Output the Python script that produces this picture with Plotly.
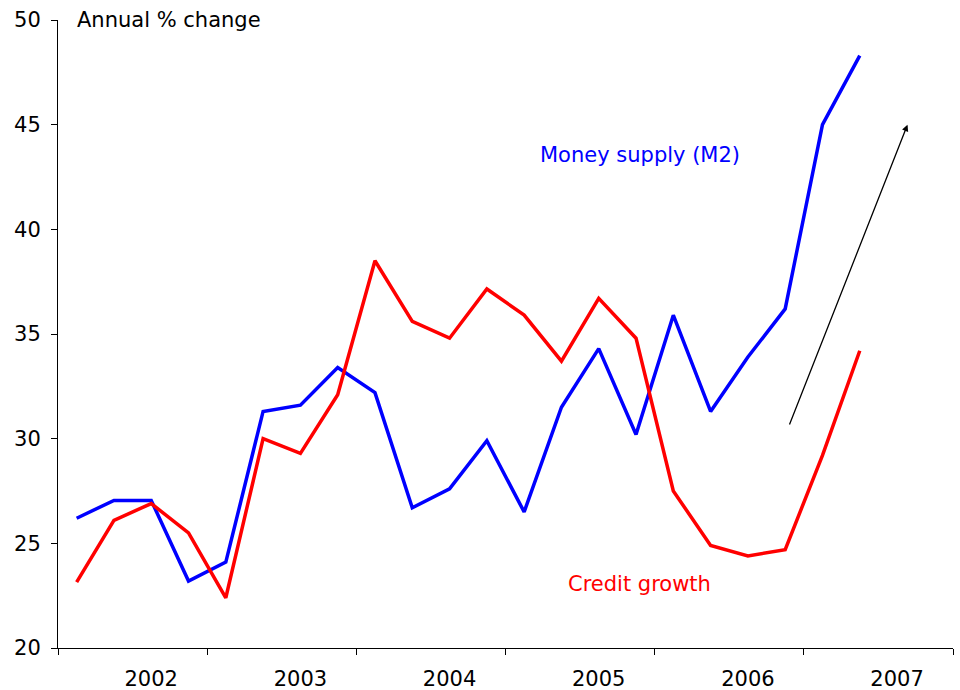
import plotly.graph_objects as go

# Quarterly observations, Q1 2002 onward (22 quarters)
quarter_index = list(range(22))
money_supply_m2 = [26.2, 27.05, 27.05, 23.2, 24.1, 31.3, 31.6, 33.4, 32.2, 26.7, 27.6,
                   29.9, 26.5, 31.5, 34.3, 30.2, 35.9, 31.3, 33.9, 36.2, 45.0, 48.3]
credit_growth = [23.15, 26.1, 26.9, 25.5, 22.4, 30.0, 29.3, 32.1, 38.5, 35.6, 34.8,
                 37.15, 35.9, 33.7, 36.7, 34.8, 27.5, 24.9, 24.4, 24.7, 29.2, 34.2]

year_labels = ["2002", "2003", "2004", "2005", "2006", "2007"]
year_label_pos = [2, 6, 10, 14, 18, 22]
year_boundaries = [-0.5, 3.5, 7.5, 11.5, 15.5, 19.5, 23.5]

FONT = "DejaVu Sans, Verdana, sans-serif"
FS = 21

fig = go.Figure()
fig.add_trace(go.Scatter(x=quarter_index, y=money_supply_m2, mode="lines",
                         line=dict(color="#0000FF", width=3.5), name="Money supply (M2)"))
fig.add_trace(go.Scatter(x=quarter_index, y=credit_growth, mode="lines",
                         line=dict(color="#FF0000", width=3.5), name="Credit growth"))
# Invisible trace so the year-label axis is drawn
fig.add_trace(go.Scatter(x=[], y=[], xaxis="x2", yaxis="y", showlegend=False))

fig.update_layout(
    width=960, height=690,
    margin=dict(l=58, r=7, t=20, b=42),
    paper_bgcolor="white", plot_bgcolor="white",
    showlegend=False,
    font=dict(family=FONT, size=FS, color="black"),
    xaxis=dict(range=[-0.5, 23.5], tickmode="array", tickvals=year_boundaries,
               showticklabels=False, ticks="outside", ticklen=6, tickwidth=1,
               tickcolor="black", showline=True, linecolor="black", linewidth=1,
               showgrid=False, zeroline=False, automargin=False),
    xaxis2=dict(range=[-0.5, 23.5], overlaying="x", anchor="y", side="bottom",
                tickmode="array", tickvals=year_label_pos, ticktext=year_labels,
                ticks="outside", ticklen=12, tickcolor="rgba(0,0,0,0)",
                showline=False, showgrid=False, zeroline=False, automargin=False,
                tickfont=dict(family=FONT, size=FS, color="black")),
    yaxis=dict(range=[20, 50], tickmode="array", tickvals=[20, 25, 30, 35, 40, 45, 50],
               ticks="outside", ticklen=6, tickwidth=1, tickcolor="black",
               showline=True, linecolor="black", linewidth=1,
               showgrid=False, zeroline=False, automargin=False,
               ticklabelstandoff=6,
               tickfont=dict(family=FONT, size=FS, color="black")),
)

fig.add_annotation(x=(75 - 58) / 895, y=1.0, xref="paper", yref="paper",
                   text="Annual % change", showarrow=False,
                   xanchor="left", yanchor="middle",
                   font=dict(family=FONT, size=FS, color="black"))

fig.add_annotation(x=15.1, y=43.55, text="Money supply (M2)", showarrow=False,
                   font=dict(family=FONT, size=FS, color="#0000FF"))
fig.add_annotation(x=15.1, y=23.05, text="Credit growth", showarrow=False,
                   font=dict(family=FONT, size=FS, color="#FF0000"))

# Trend arrow
fig.add_annotation(x=22.28, y=45.0, ax=19.1, ay=30.6, xref="x", yref="y",
                   axref="x", ayref="y", text="", showarrow=True,
                   arrowhead=2, arrowsize=1, arrowwidth=1.3, arrowcolor="black")

fig.write_html("out.html")
